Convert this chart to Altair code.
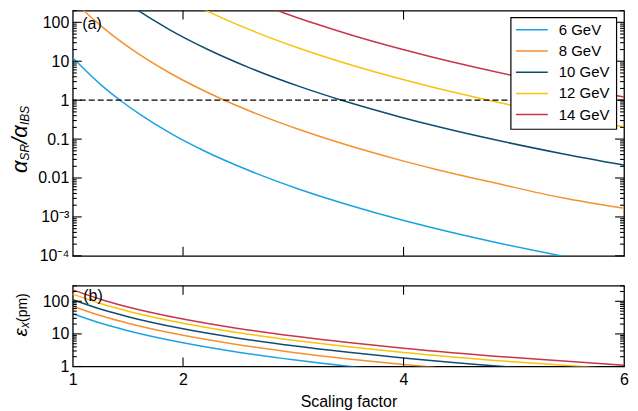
import altair as alt
import pandas as pd

FONT = "Liberation Sans"
series = ["6 GeV", "8 GeV", "10 GeV", "12 GeV", "14 GeV"]
colors = ["#1aa3e3", "#f5912f", "#0d4e70", "#f9c20b", "#c8354d"]

# Panel (a): alpha_SR / alpha_IBS vs scaling factor
a_x_6 = [1.0, 1.28, 1.445, 1.61, 1.88, 2.18, 2.61, 3.06, 3.51, 3.96, 4.28, 4.84, 5.38, 6.0]
a_y_6 = [12.3, 2.16, 0.923, 0.431, 0.1445, 0.0518, 0.01514, 0.00508, 0.002, 0.000871, 0.000513, 0.000221, 0.000107, 0.0000508]
a_x_8 = [1.0, 1.10, 1.28, 1.58, 1.88, 2.35, 2.61, 3.06, 3.51, 3.96, 4.28, 4.84, 5.44, 6.0]
a_y_8 = [389, 201, 70.8, 16.6, 4.99, 1.07, 0.519, 0.173, 0.0671, 0.0292, 0.0171, 0.00733, 0.00309, 0.00166]
a_x_10 = [1.5, 1.62, 1.88, 2.24, 2.61, 3.06, 3.47, 3.96, 4.28, 4.84, 5.44, 6.0]
a_y_10 = [305, 179, 64.3, 19.2, 6.68, 2.23, 0.937, 0.377, 0.22, 0.0944, 0.0421, 0.0214]
a_x_12 = [2.0, 2.23, 2.61, 3.06, 3.51, 3.96, 4.24, 4.75, 4.96, 5.44, 6.0]
a_y_12 = [401, 189, 63.8, 21.3, 8.26, 3.6, 2.24, 1.03, 0.76, 0.402, 0.205]
a_x_14 = [2.6, 2.91, 3.21, 3.51, 3.96, 4.24, 4.69, 4.97, 5.44, 6.0]
a_y_14 = [386, 177, 90.2, 48.6, 21.2, 13.2, 6.59, 4.42, 2.37, 1.2]

# Panel (b): emittance (pm) vs scaling factor
b_x = [1.0, 1.28, 1.5, 2.0, 2.5, 3.0, 3.5, 4.0, 5.0, 6.0]
b_y_6 = [41.7, 20, 12.5, 5.32, 2.74, 1.6, 1.01, 0.68, 0.35, 0.204]
b_y_8 = [70.8, 34, 21.2, 9.04, 4.66, 2.71, 1.71, 1.15, 0.594, 0.346]
b_y_10 = [112, 54, 33.7, 14.3, 7.38, 4.3, 2.72, 1.83, 0.94, 0.55]
b_y_12 = [166, 79.8, 49.8, 21.2, 10.9, 6.35, 4.02, 2.7, 1.39, 0.81]
b_y_14 = [224, 108, 67.1, 28.6, 14.7, 8.57, 5.42, 3.65, 1.88, 1.09]

x_labels = [1, 2, 4, 6]
x_inner_ticks = [2, 4]
a_major = [1e-4, 1e-3, 0.01, 0.1, 1, 10, 100]
b_major = [1, 10, 100]

W, H1, H2 = 553, 246, 81


def minor_ticks(kmin, kmax, top):
    return [m * 10 ** k for k in range(kmin, kmax + 1) for m in range(2, 10) if m * 10 ** k <= top]


a_df = pd.concat([
    pd.DataFrame({"x": xs, "y": ys, "series": s})
    for xs, ys, s in [(a_x_6, a_y_6, series[0]), (a_x_8, a_y_8, series[1]), (a_x_10, a_y_10, series[2]),
                      (a_x_12, a_y_12, series[3]), (a_x_14, a_y_14, series[4])]
])
b_df = pd.concat([
    pd.DataFrame({"x": b_x, "y": ys, "series": s})
    for ys, s in [(b_y_6, series[0]), (b_y_8, series[1]), (b_y_10, series[2]), (b_y_12, series[3]), (b_y_14, series[4])]
])

one = pd.DataFrame({"a": [0]})


def txt(t, x, y, size, angle=0, italic=False, align="left", baseline="middle"):
    kw = dict(text=t, align=align, baseline=baseline, fontSize=size, font=FONT, color="black",
              fontStyle="italic" if italic else "normal")
    if angle:
        kw["angle"] = angle
    return alt.Chart(one).mark_text(**kw).encode(x=alt.value(x), y=alt.value(y))


def panel(df, ydomain, major, minor, H, xaxis, yaxis):
    xs = alt.Scale(domain=[1, 6], nice=False, zero=False)
    ys = alt.Scale(type="log", domain=ydomain, nice=False)
    lines = alt.Chart(df).mark_line(clip=True, strokeWidth=1.5, interpolate="monotone").encode(
        x=alt.X("x:Q", scale=xs, axis=xaxis),
        y=alt.Y("y:Q", scale=ys, axis=yaxis),
        color=alt.Color("series:N", scale=alt.Scale(domain=series, range=colors), legend=None),
    )
    maj = pd.DataFrame({"v": major})
    mino = pd.DataFrame({"v": minor})
    xt = pd.DataFrame({"v": x_inner_ticks})
    tk = dict(color="black", strokeWidth=1.1)
    yenc = alt.Y("v:Q", scale=ys, axis=yaxis)
    xenc = alt.X("v:Q", scale=xs, axis=xaxis)
    layers = [
        lines,
        alt.Chart(maj).mark_rule(**tk).encode(y=yenc, x=alt.value(0), x2=alt.value(9)),
        alt.Chart(maj).mark_rule(**tk).encode(y=yenc, x=alt.value(W - 9), x2=alt.value(W)),
        alt.Chart(mino).mark_rule(**tk).encode(y=yenc, x=alt.value(0), x2=alt.value(4)),
        alt.Chart(mino).mark_rule(**tk).encode(y=yenc, x=alt.value(W - 4), x2=alt.value(W)),
        alt.Chart(xt).mark_rule(**tk).encode(x=xenc, y=alt.value(0), y2=alt.value(9)),
        alt.Chart(xt).mark_rule(**tk).encode(x=xenc, y=alt.value(H - 9), y2=alt.value(H)),
    ]
    return layers, ys


# ---- top panel ----
top_yaxis = alt.Axis(values=a_major, grid=False, ticks=False, domain=False, title=None, labelPadding=4,
                     labelExpr="datum.value < 0.0005 ? '10⁻⁴' : (datum.value < 0.005 ? '10⁻³' : format(datum.value, '~g'))")
top_xaxis = alt.Axis(values=x_labels, labels=False, ticks=False, domain=False, grid=False, title=None)
top_layers, ys_top = panel(a_df, [1e-4, 200], a_major, minor_ticks(-4, 2, 200), H1, top_xaxis, top_yaxis)

dashed = alt.Chart(pd.DataFrame({"v": [1]})).mark_rule(strokeDash=[6, 3], color="black", strokeWidth=1.2).encode(
    y=alt.Y("v:Q", scale=ys_top, axis=top_yaxis))

legend_layers = [alt.Chart(one).mark_rect(fill="white", stroke="black", strokeWidth=1.2).encode(
    x=alt.value(439.5), x2=alt.value(545.5), y=alt.value(7), y2=alt.value(119))]
for i, (s, c) in enumerate(zip(series, colors)):
    yy = 19.3 + i * 21.25
    legend_layers.append(alt.Chart(one).mark_rule(color=c, strokeWidth=1.5).encode(
        x=alt.value(444.5), x2=alt.value(476.5), y=alt.value(yy)))
    legend_layers.append(txt(s, 487.5, yy, 15))

# rotated y title: alpha_SR / alpha_IBS
ylab_a = [
    txt("α", -46, 163, 22, angle=270, italic=True, baseline="alphabetic"),
    txt("SR", -44, 150.3, 12, angle=270, italic=True, baseline="alphabetic"),
    txt("/", -46, 133.6, 22, angle=270, italic=True, baseline="alphabetic"),
    txt("α", -46, 127.5, 22, angle=270, italic=True, baseline="alphabetic"),
    txt("IBS", -44, 114.8, 12, angle=270, italic=True, baseline="alphabetic"),
]
anchor_top = alt.Chart(one).mark_rect(opacity=0).encode(
    x=alt.value(-72), x2=alt.value(W + 13), y=alt.value(-9), y2=alt.value(0))

top = alt.layer(*top_layers, dashed, *legend_layers, txt("(a)", 9.5, 13.5, 16), *ylab_a, anchor_top).properties(
    width=W, height=H1)

# ---- bottom panel ----
bot_yaxis = alt.Axis(values=b_major, grid=False, ticks=False, domain=False, title=None, labelPadding=4, format="~g")
bot_xaxis = alt.Axis(values=x_labels, format="d", ticks=False, domain=False, grid=False, title="Scaling factor",
                     labelPadding=5, titlePadding=6, labelFlush=False)
bot_layers, ys_bot = panel(b_df, [1, 300], b_major, minor_ticks(0, 2, 300), H2, bot_xaxis, bot_yaxis)

ylab_b = [
    txt("ε", -45.5, 51, 19, angle=270, italic=True, baseline="alphabetic"),
    txt("x", -43.5, 42.3, 12, angle=270, italic=True, baseline="alphabetic"),
    txt(" (pm)", -45.5, 36.3, 14, angle=270, baseline="alphabetic"),
]
anchor_bot = alt.Chart(one).mark_rect(opacity=0).encode(
    x=alt.value(-72), x2=alt.value(W + 13), y=alt.value(H2), y2=alt.value(H2 + 45))

bottom = alt.layer(*bot_layers, txt("(b)", 10.5, 10.7, 16), *ylab_b, anchor_bot).properties(width=W, height=H2)

chart = alt.vconcat(top, bottom, spacing=30, bounds="flush", padding=0).configure_view(
    stroke="black", strokeWidth=1.3
).configure_axis(
    labelFont=FONT, titleFont=FONT, labelFontSize=16, titleFontSize=16, labelColor="black",
    titleColor="black", titleFontWeight="normal"
)

chart.save("out.html", embed_options={"renderer": "svg", "actions": False})
